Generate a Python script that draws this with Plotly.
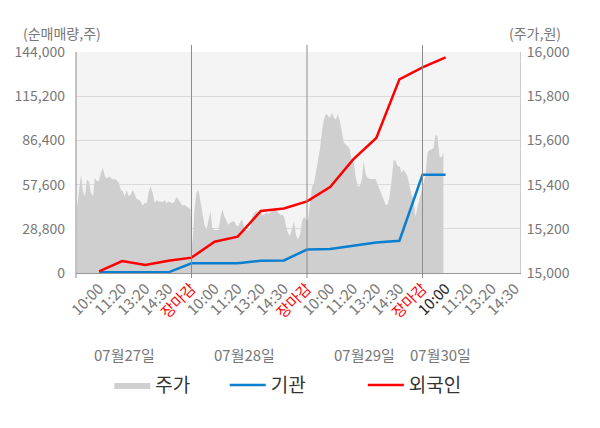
import numpy as np
import plotly.graph_objects as go

FONT = "Noto Sans CJK KR"

# x axis: 5 slots per trading day (10:00, 11:20, 13:20, 14:30, 장마감)
tick_slots = list(range(1, 20))
tick_labels = ["10:00", "11:20", "13:20", "14:30", "장마감"] * 3 + ["10:00", "11:20", "13:20", "14:30"]
day_labels = ["07월27일", "07월28일", "07월29일", "07월30일"]
day_label_pos = [2.1, 7.3, 12.5, 15.8]
close_slots = [5, 10, 15]

# net buying (shares), one value per slot
inv_slots = list(range(1, 17))
foreign = [1000, 7800, 5200, 8000, 10000, 20400, 23700, 40400, 42000, 46700,
           56000, 74000, 88000, 126200, 134000, 140500]
institution = [450, 450, 450, 450, 6300, 6300, 6300, 8000, 8200, 15300,
               15600, 17800, 19800, 21000, 64000, 64000]

# intraday price (won), read per day
price_day1 = [15298, 15385, 15445, 15370, 15347, 15423, 15415, 15362, 15347, 15430,
              15415, 15415, 15453, 15476, 15438, 15426, 15438, 15430, 15423, 15426,
              15415, 15408, 15377, 15370, 15347, 15374, 15347, 15354, 15377, 15354,
              15335, 15332, 15324, 15304, 15317, 15317, 15365, 15392, 15362, 15317,
              15329, 15324, 15324, 15320, 15329, 15317, 15324, 15320, 15314, 15324,
              15344, 15332, 15317, 15304, 15309, 15301, 15294, 15289]
price_day2 = [15127, 15289, 15362, 15377, 15324, 15264, 15218, 15195, 15233, 15279,
              15203, 15195, 15195, 15195, 15248, 15289, 15256, 15238, 15218, 15229,
              15233, 15233, 15214, 15211, 15233, 15241, 15203, 15195, 15195, 15203,
              15256, 15271, 15279, 15274, 15286, 15264, 15264, 15274, 15268, 15271,
              15282, 15283, 15282, 15274, 15264, 15264, 15256, 15211, 15180, 15168,
              15203, 15233, 15168, 15153, 15173, 15233, 15256, 15241]
price_day3 = [15241, 15316, 15389, 15407, 15453, 15506, 15559, 15642, 15695, 15722,
              15713, 15703, 15725, 15703, 15695, 15718, 15688, 15642, 15589, 15581,
              15574, 15559, 15513, 15498, 15430, 15392, 15392, 15422, 15506, 15445,
              15430, 15425, 15425, 15425, 15425, 15400, 15377, 15354, 15332, 15309,
              15309, 15347, 15422, 15513, 15506, 15483, 15483, 15453, 15468, 15453,
              15438, 15392, 15354, 15332, 15256, 15301, 15339, 15377]
price_day4 = [15407, 15445, 15544, 15556, 15559, 15566, 15627, 15619, 15528, 15521, 15544]

step = 5 / 58
px, py = [], []
for d, vals in enumerate([price_day1, price_day2, price_day3, price_day4]):
    px += [5 * d + (i + 0.5) * step for i in range(len(vals))]
    py += vals

RED = "#ff0000"
BLUE = "#0a7fd0"
GREY_TXT = "#777777"

fig = go.Figure()
# price on the base axis so the net-buying lines sit above it
fig.add_trace(go.Scatter(x=px, y=py, yaxis="y", name="주가", mode="lines",
                         line=dict(width=0, color="#cfcfcf"),
                         fill="tozeroy", fillcolor="#cfcfcf", legend="legend"))
fig.add_trace(go.Scatter(x=inv_slots, y=institution, yaxis="y2", name="기관", mode="lines",
                         line=dict(color=BLUE, width=2.5), legend="legend2"))
fig.add_trace(go.Scatter(x=inv_slots, y=foreign, yaxis="y2", name="외국인", mode="lines",
                         line=dict(color=RED, width=2.5), legend="legend3"))

ticktext = []
for i, t in enumerate(tick_labels):
    if t == "장마감":
        ticktext.append('<span style="color:#ff0000">' + t + '</span>')
    elif i == 15:
        ticktext.append('<span style="color:#222222">' + t + '</span>')
    else:
        ticktext.append(t)

shapes = []
for s in close_slots:
    shapes.append(dict(type="line", xref="x", yref="paper", x0=s, x1=s, y0=-0.023, y1=1.032,
                       line=dict(color="#8c8c8c", width=1)))
shapes.append(dict(type="line", xref="paper", yref="paper", x0=0, x1=0, y0=-0.023, y1=1,
                   line=dict(color="#8c8c8c", width=1)))

annotations = [
    dict(text="(순매매량,주)", xref="paper", yref="paper", x=-0.124, y=1.086,
         xanchor="left", yanchor="middle", showarrow=False, font=dict(size=14, color=GREY_TXT)),
    dict(text="(주가,원)", xref="paper", yref="paper", x=1.097, y=1.086,
         xanchor="right", yanchor="middle", showarrow=False, font=dict(size=14, color=GREY_TXT)),
]
for lab, pos in zip(day_labels, day_label_pos):
    annotations.append(dict(text=lab, xref="x", yref="paper", x=pos, y=-0.367,
                            xanchor="center", yanchor="middle", showarrow=False,
                            font=dict(size=15, color=GREY_TXT)))

leg = dict(orientation="h", xanchor="left", y=-0.507, yanchor="middle",
           font=dict(size=19, color="#333333"), itemwidth=36, bgcolor="rgba(0,0,0,0)")

fig.update_layout(
    width=600, height=428,
    # page body adds 8px, so shift the plot area up/left by that much
    margin=dict(l=68, r=88, t=44, b=163, autoexpand=False),
    paper_bgcolor="white", plot_bgcolor="#f4f4f4",
    font=dict(family=FONT, color=GREY_TXT),
    showlegend=True,
    legend=dict(leg, x=0.075),
    legend2=dict(leg, x=0.335),
    legend3=dict(leg, x=0.646),
    xaxis=dict(range=[0, 19.22], tickvals=tick_slots, ticktext=ticktext, tickangle=-45,
               tickfont=dict(size=15, color=GREY_TXT), showgrid=False, zeroline=False,
               showline=True, linecolor="#999999", linewidth=1, ticks="", automargin=False),
    yaxis=dict(range=[15000, 16000], dtick=200, tickformat=",d", side="right",
               tickfont=dict(size=14, color=GREY_TXT), showgrid=False, zeroline=False,
               showline=True, linecolor="#cccccc", automargin=False, ticklabelstandoff=3),
    yaxis2=dict(range=[0, 144000], tickvals=[0, 28800, 57600, 86400, 115200, 144000],
                tickformat=",d", tickfont=dict(size=14, color=GREY_TXT), overlaying="y",
                side="left", gridcolor="#dadada", gridwidth=1, zeroline=False,
                showline=False, automargin=False, ticklabelstandoff=10),
    shapes=shapes,
    annotations=annotations,
)

fig.write_html("out.html")
